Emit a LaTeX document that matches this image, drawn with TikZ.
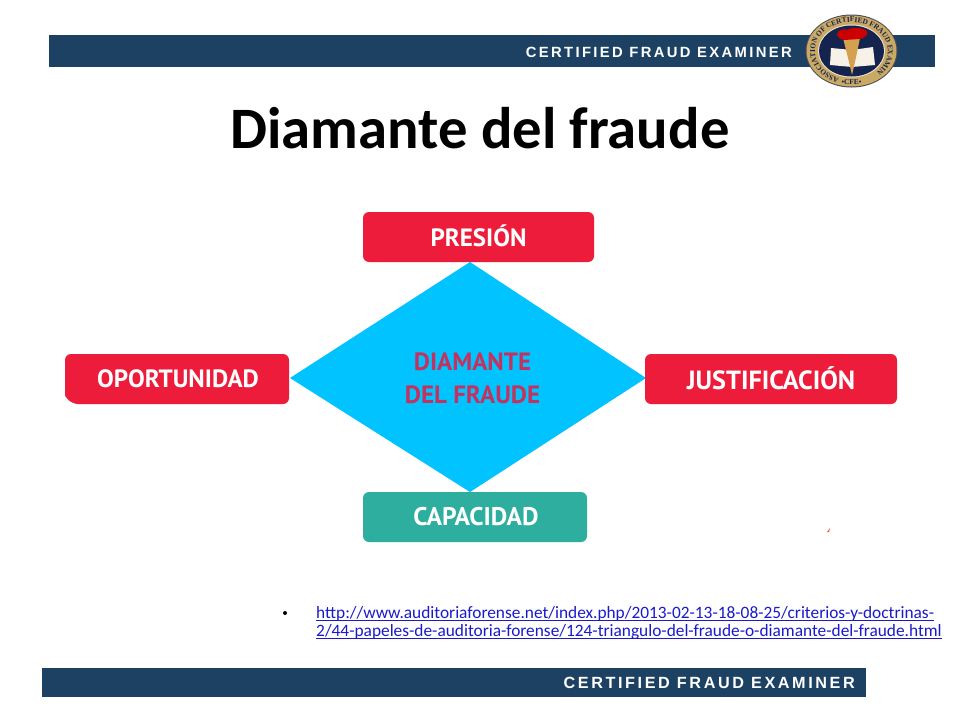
\documentclass[tikz,border=0pt]{standalone}
\usepackage{fontspec}
\setmainfont{Carlito}
\newfontfamily\boxfont{PT Sans}
\newfontfamily\bannerfont[LetterSpace=16]{Liberation Sans}
\newfontfamily\sealfont{Liberation Serif}
\usetikzlibrary{decorations.text,shapes.geometric}
\definecolor{bannerblue}{HTML}{1D4163}
\definecolor{boxred}{HTML}{EE1C3B}
\definecolor{boxteal}{HTML}{2DAE9F}
\definecolor{diamondblue}{HTML}{00C3FF}
\definecolor{diamondtext}{HTML}{C4335F}
\definecolor{linkblue}{HTML}{1A1ACC}
\definecolor{sealgold}{HTML}{C9A964}
\definecolor{sealnavy}{HTML}{15234F}
\tikzset{
  banner/.style={fill=bannerblue,draw=none},
  bannertext/.style={text=white,inner sep=0pt},
  factorbox/.style={rounded corners=6pt,draw=none},
  factortext/.style={text=white,font=\boxfont\bfseries\fontsize{25}{28}\selectfont,inner sep=0pt},
  centertext/.style={text=diamondtext,align=center,font=\boxfont\bfseries\fontsize{25}{33}\selectfont,inner sep=0pt},
  linktext/.style={text=linkblue,font=\fontsize{17.35}{17}\selectfont,inner sep=0pt,anchor=base west},
}
\begin{document}
\begin{tikzpicture}[x=1pt,y=-1pt]
\useasboundingbox (0,0) rectangle (960,720);
\fill[white] (0,0) rectangle (960,720);
% top banner
\fill[banner] (49,35) rectangle (935,67);
\node[bannertext,anchor=east,font=\bannerfont\bfseries\fontsize{14.8}{16}\selectfont] (topbanner) at (792,52) {CERTIFIED FRAUD EXAMINER};
% seal
\fill[sealnavy!70!sealgold] (851.5,51) ellipse (46 and 36.5);
\fill[sealgold] (851.5,51) ellipse (45 and 35.5);
\fill[white!70!sealgold] (851.5,51) ellipse (33.5 and 26.5);
\fill[sealnavy] (851.5,51) ellipse (32.5 and 25.5);
\path[decorate,decoration={text along path,text align=center,
  text={|\sealfont\bfseries\fontsize{7.4}{9}\selectfont\color{sealnavy}|ASSOCIATION OF CERTIFIED FRAUD EXAMINERS}}]
  (851.5,51) ++(130:36.5 and 29) arc[start angle=130,end angle=410,x radius=36.5,y radius=29];
\node[text=sealnavy,font=\sealfont\bfseries\fontsize{7.4}{9}\selectfont,inner sep=0pt] (sealcfe) at (851.5,82) {•CFE•};
% book
\fill[white!85!sealgold] (831,48) -- (852,50) -- (873,47) -- (875,65) -- (852,67) -- (830,65) -- cycle;
\draw[sealgold!70!black,line width=.5pt] (852,50) -- (852,67);
% torch
\fill[sealgold!80!orange] (843,38) -- (860,38) -- (855,62) -- (852,75) -- (849,62) -- cycle;
\fill[red!80!black] (837,35) .. controls (836,30) and (845,28) .. (847,30) .. controls (851,27) and (862,27) .. (867,31) .. controls (869,34) and (865,38) .. (860,39) -- (844,40) .. controls (841,40) and (838,38) .. (837,35) -- cycle;
% title
\node[inner sep=0pt,font=\bfseries\fontsize{58.7}{62}\selectfont,text=black] (title) at (480,128) {Diamante del fraude};
% diamond
\fill[diamondblue] (290,378) -- (470,262) -- (646,378) -- (470,492) -- cycle;
\node[centertext] (center) at (472.5,378) {DIAMANTE\\DEL FRAUDE};
% boxes
\fill[boxred,factorbox] (363,212) rectangle (594,262);
\node[factortext] (presion) at (478.5,236) {PRESIÓN};
\fill[boxred] (180,354) [rounded corners=6pt] -- (289,354) -- (289,404) -- (72,404) [rounded corners=1pt] -- (65,396) [rounded corners=6pt] -- (65,354) -- cycle;
\node[factortext] (oportunidad) at (178,379) {OPORTUNIDAD};
\fill[boxred,factorbox] (645,354) rectangle (897,404);
\node[factortext,font=\boxfont\bfseries\fontsize{26.3}{28}\selectfont] (justificacion) at (771,378) {JUSTIFICACIÓN};
\fill[boxteal,factorbox] (363,492) rectangle (587,542);
\node[factortext,font=\boxfont\bfseries\fontsize{25.5}{28}\selectfont] (capacidad) at (476,517) {CAPACIDAD};
% small stray mark
\fill[red!70!white] (827,532) -- (830,528) -- (829,532) -- cycle;
% link
\fill[black] (285,613) circle (2);
\node[linktext] (urlone) at (316,618.5) {http://www.auditoriaforense.net/index.php/2013-02-13-18-08-25/criterios-y-doctrinas-};
\node[linktext] (urltwo) at (316,636.5) {2/44-papeles-de-auditoria-forense/124-triangulo-del-fraude-o-diamante-del-fraude.html};
\draw[linkblue,line width=.8pt] (316,620.5) -- (urlone.base east |- 0,620.5);
\draw[linkblue,line width=.8pt] (316,638.5) -- (urltwo.base east |- 0,638.5);
% bottom banner
\fill[banner] (42,668) rectangle (866,697);
\node[bannertext,anchor=east,font=\bannerfont\bfseries\fontsize{16.2}{17}\selectfont] (bottombanner) at (855,682.5) {CERTIFIED FRAUD EXAMINER};
\end{tikzpicture}
\end{document}
